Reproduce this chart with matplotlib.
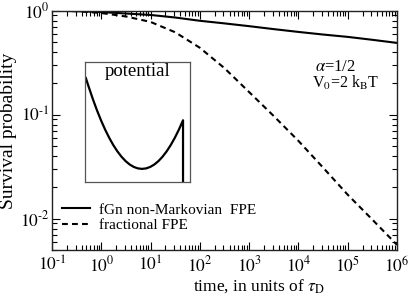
import numpy as np
import matplotlib
matplotlib.use("Agg")
import matplotlib.pyplot as plt
from matplotlib.ticker import LogLocator, NullFormatter, FuncFormatter

plt.rcParams['font.family'] = ['Liberation Serif', 'DejaVu Serif']
plt.rcParams['mathtext.fontset'] = 'stix'

# survival curves (time in units of tau_D)
log_t = [-1, -0.5, 0, 0.5, 1, 1.5, 2, 2.5, 3, 3.5, 4, 4.5, 5, 5.5, 6]
p_fgn = [1.0, 0.99, 0.97, 0.94, 0.91, 0.86, 0.80, 0.755, 0.71, 0.665, 0.625, 0.59, 0.56, 0.525, 0.49]
p_frac = [1.0, 0.99, 0.95, 0.88, 0.78, 0.62, 0.44, 0.28, 0.165, 0.097, 0.056, 0.031, 0.017, 0.0098, 0.0056]

# inset: harmonic well with absorbing cut on the right
pot_x = [-1.37, -1.3, -1.2, -1.1, -1.0, -0.9, -0.8, -0.7, -0.6, -0.5, -0.4, -0.3, -0.2, -0.1,
         0.0, 0.1, 0.2, 0.3, 0.4, 0.5, 0.6, 0.7, 0.8, 0.9, 1.0, 1.0]
pot_v = [1.87, 1.69, 1.44, 1.21, 1.0, 0.81, 0.64, 0.49, 0.36, 0.25, 0.16, 0.09, 0.04, 0.01,
         0.0, 0.01, 0.04, 0.09, 0.16, 0.25, 0.36, 0.49, 0.64, 0.81, 1.0, -0.27]

t = 10.0 ** np.array(log_t)


def dec_label(v, pos):
    e = int(round(np.log10(v)))
    if e < 0:
        return r'$10^{\text{-}%d}$' % (-e)
    return r'$10^{%d}$' % e


fig = plt.figure(figsize=(4.09, 2.95), dpi=100)
ax = fig.add_axes([52/409, 45/295, 345/409, 239.3/295])

ax.plot(t, p_fgn, color='black', lw=1.5, label='fGn non-Markovian  FPE')
ax.plot(t, p_frac, color='black', lw=1.5, ls=(0, (2.8, 2.0)), label='fractional FPE')

ax.set_xscale('log')
ax.set_yscale('log')
ax.set_xlim(0.1, 1e6)
ax.set_ylim(0.005, 1.0)
ax.xaxis.set_major_locator(LogLocator(base=10, numticks=20))
ax.xaxis.set_minor_locator(LogLocator(base=10, subs=np.arange(2, 10), numticks=20))
ax.xaxis.set_major_formatter(FuncFormatter(dec_label))
ax.yaxis.set_major_formatter(FuncFormatter(dec_label))
ax.xaxis.set_minor_formatter(NullFormatter())
ax.yaxis.set_minor_formatter(NullFormatter())
ax.tick_params(which='both', direction='in', top=True, right=True, labelsize=12.5)
ax.tick_params(axis='x', pad=4)
ax.tick_params(axis='y', pad=2)
ax.tick_params(which='major', length=6, width=0.8)
ax.tick_params(which='minor', length=3.5, width=0.8)
for s in ax.spines.values():
    s.set_linewidth(1.0)
    s.set_color('#222222')

ax.set_ylabel('Survival probability', fontsize=14)
ax.yaxis.set_label_coords(-0.1, 0.5)
ax.set_xlabel(r'time, in units of $\tau_\mathrm{D}$', fontsize=12.5)
ax.xaxis.set_label_coords(0.6, -0.112)

ax.text(315/409, 1 - 67/295, r'$\alpha$=1/2', transform=fig.transFigure,
        fontsize=12, va='center', ha='left')
ax.text(312/409, 1 - 83/295, r'V$_0$=2 k$_\mathrm{B}$T', transform=fig.transFigure,
        fontsize=11.5, va='center', ha='left')

ax.legend(loc='lower left', frameon=False, fontsize=11, handlelength=1.85,
          handletextpad=0.6, labelspacing=0.1, borderpad=0, borderaxespad=0,
          bbox_to_anchor=(0.029, 0.075))

ins = fig.add_axes([85/409, 113/295, 105/409, 120/295])
ins.plot(pot_x, pot_v, color='black', lw=1.6)
ins.set_xlim(-1.39, 1.17)
ins.set_ylim(-0.27, 2.2)
ins.set_xticks([])
ins.set_yticks([])
for s in ins.spines.values():
    s.set_linewidth(0.9)
    s.set_color('#555555')
ins.text(-0.1, 2.0, 'potential', fontsize=13.5, ha='center', va='center')

fig.savefig('out.png', dpi=100)
